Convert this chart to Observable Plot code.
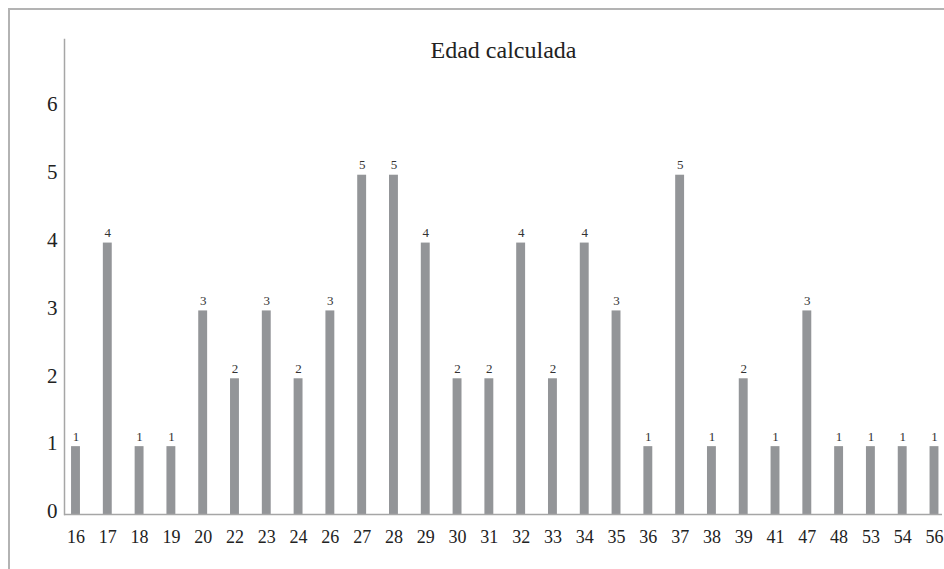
<!DOCTYPE html>
<html>
<head>
<meta charset="utf-8">
<script src="https://cdn.jsdelivr.net/npm/d3@7"></script>
<script src="https://cdn.jsdelivr.net/npm/@observablehq/plot@0.6"></script>
<style>
  html, body { margin: 0; padding: 0; background: #fff; }
  #wrap { position: relative; width: 944px; height: 569px; overflow: hidden; }
  #border { position: absolute; left: 8px; top: 8px; right: -10px; bottom: -10px;
            border-top: 2px solid #b3b3b3; border-left: 2px solid #b3b3b3; pointer-events: none; }
  #chart svg { display: block; }
</style>
</head>
<body>
<div id="wrap">
  <div id="chart"></div>
  <div id="border"></div>
</div>
<script>
const title = "Edad calculada";
const ages = ["16","17","18","19","20","22","23","24","26","27","28","29","30","31","32","33","34","35","36","37","38","39","41","47","48","53","54","56"];
const counts = [1,4,1,1,3,2,3,2,3,5,5,4,2,2,4,2,4,3,1,5,1,2,1,3,1,1,1,1];
const yTicks = [0,1,2,3,4,5,6];

const data = ages.map((a, i) => ({age: a, count: counts[i]}));
const serif = "'Liberation Serif', 'Times New Roman', serif";

const chart = Plot.plot({
  width: 944,
  height: 569,
  marginLeft: 64,
  marginRight: 2,
  marginTop: 39,
  marginBottom: 55,
  style: {fontFamily: serif, color: "#222", background: "#fff"},
  x: {type: "band", domain: ages, range: [59.6, 949.9], paddingInner: 0.72, paddingOuter: 0.36, round: false, label: null},
  y: {domain: [0, 7], label: null},
  marks: [
    Plot.frame({anchor: "left", stroke: "#a6a6a6", strokeWidth: 1.5}),
    Plot.barY(data, {x: "age", y: "count", fill: "#939598", insetBottom: -1}),
    Plot.ruleY([0], {stroke: "#a6a6a6", strokeWidth: 1.5}),
    Plot.text(data, {x: "age", y: "count", text: d => String(d.count), dy: -10, fontSize: 13, fill: "#333"}),
    Plot.axisY({ticks: yTicks, tickSize: 0, tickPadding: 7, dy: -3, fontSize: 21, tickFormat: d => String(d), label: null}),
    Plot.axisX({tickSize: 0, tickPadding: 16, fontSize: 18, label: null}),
    Plot.text([title], {frameAnchor: "top", dy: 1, fontSize: 24, fill: "#222"})
  ]
});
document.getElementById("chart").appendChild(chart);
</script>
</body>
</html>
